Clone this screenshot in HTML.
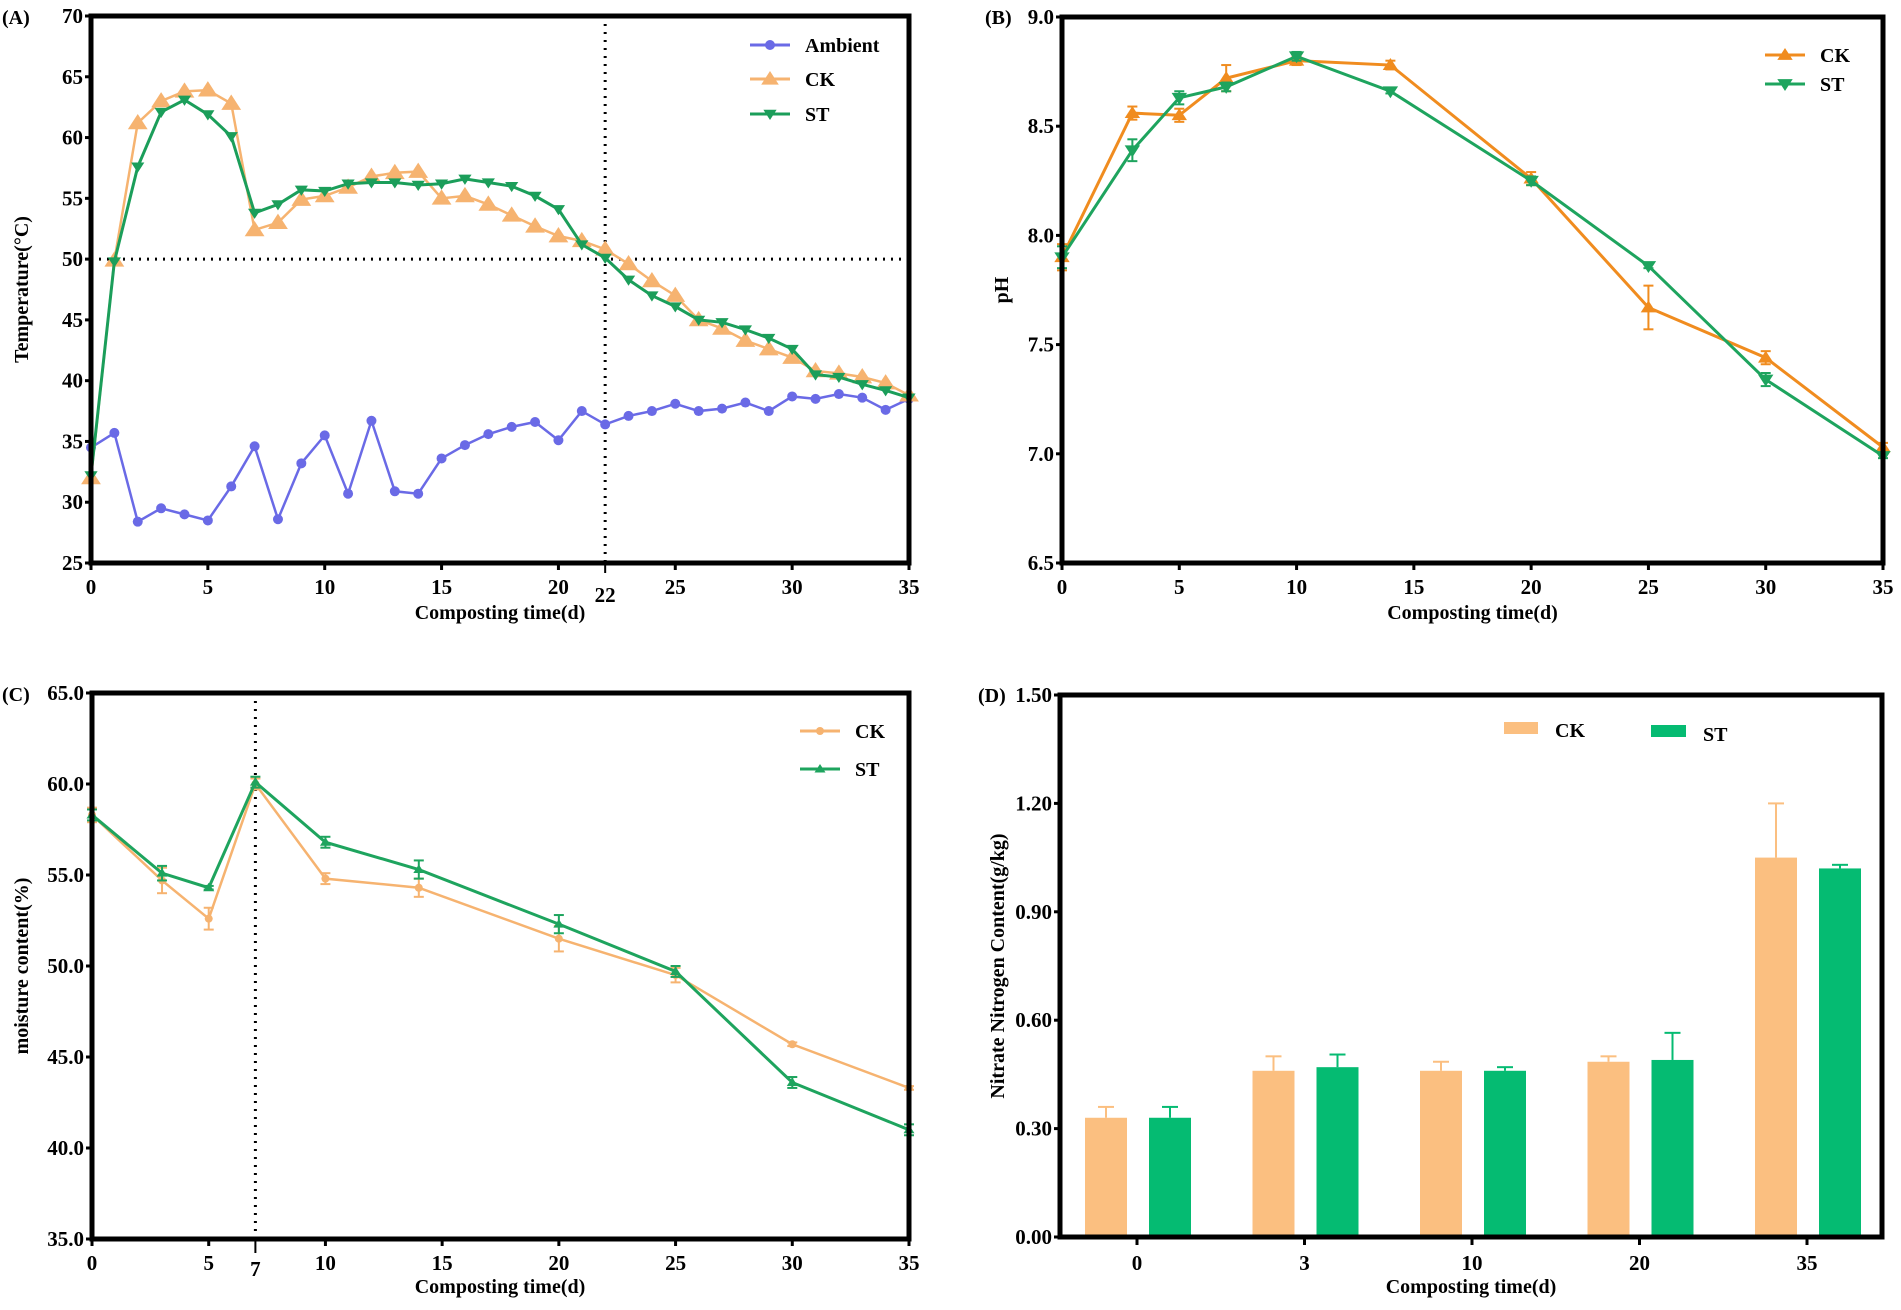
<!DOCTYPE html>
<html><head><meta charset="utf-8"><style>
html,body{margin:0;padding:0;background:#fff;}
svg{display:block;font-family:"Liberation Serif",serif;font-weight:bold;}
</style></head><body>
<svg id="chart" width="1901" height="1310" viewBox="0 0 1901 1310" xmlns="http://www.w3.org/2000/svg"></svg>
<script>
// ---- Panel A data ----
const daysA = [0,1,2,3,4,5,6,7,8,9,10,11,12,13,14,15,16,17,18,19,20,21,22,23,24,25,26,27,28,29,30,31,32,33,34,35];
const ambientA = [34.5,35.7,28.4,29.5,29,28.5,31.3,34.6,28.6,33.2,35.5,30.7,36.7,30.9,30.7,33.6,34.7,35.6,36.2,36.6,35.1,37.5,36.4,37.1,37.5,38.1,37.5,37.7,38.2,37.5,38.7,38.5,38.9,38.6,37.6,38.5];
const ckA = [32,49.9,61.2,63,63.8,63.9,62.8,52.4,53,54.9,55.2,55.9,56.8,57.1,57.2,55,55.2,54.5,53.6,52.7,51.9,51.5,50.8,49.6,48.2,47,45,44.3,43.3,42.6,41.9,40.8,40.6,40.3,39.8,38.8];
const stA = [32.2,49.8,57.6,62.1,63.1,61.9,60.1,53.8,54.5,55.7,55.6,56.2,56.3,56.3,56.1,56.2,56.6,56.3,56,55.2,54.1,51.2,50.1,48.3,47,46.1,45,44.8,44.2,43.5,42.6,40.5,40.3,39.7,39.2,38.6];
const yTicksA = [25,30,35,40,45,50,55,60,65,70];
const xTicksA = [0,5,10,15,20,25,30,35];
// ---- Panel B data ----
const daysB = [0,3,5,7,10,14,20,25,30,35];
const ckB = [7.9,8.56,8.55,8.72,8.8,8.78,8.26,7.67,7.44,7.03];
const ckBErr = [0.06,0.03,0.03,0.06,0.02,0.02,0.03,0.1,0.03,0.02];
const stB = [7.9,8.39,8.63,8.68,8.82,8.66,8.25,7.86,7.34,6.99];
const stBErr = [0.05,0.05,0.03,0.02,0.02,0.01,0.02,0.01,0.03,0.01];
const yTicksB = ["6.5","7.0","7.5","8.0","8.5","9.0"];
const xTicksB = [0,5,10,15,20,25,30,35];
// ---- Panel C data ----
const daysC = [0,3,5,7,10,14,20,25,30,35];
const ckC = [58.3,54.7,52.6,60,54.8,54.3,51.5,49.5,45.7,43.3];
const ckCErr = [0.4,0.7,0.6,0.3,0.3,0.5,0.7,0.4,0.1,0.1];
const stC = [58.3,55.1,54.3,60.1,56.8,55.3,52.3,49.7,43.6,41];
const stCErr = [0.3,0.4,0.1,0.3,0.3,0.5,0.5,0.3,0.3,0.3];
const yTicksC = ["35.0","40.0","45.0","50.0","55.0","60.0","65.0"];
const xTicksC = [0,5,10,15,20,25,30,35];
// ---- Panel D data ----
const catsD = ["0","3","10","20","35"];
const ckD = [0.33,0.46,0.46,0.485,1.05];
const ckDErr = [0.03,0.04,0.025,0.015,0.15];
const stD = [0.33,0.47,0.46,0.49,1.02];
const stDErr = [0.03,0.035,0.01,0.075,0.01];
const yTicksD = ["0.00","0.30","0.60","0.90","1.20","1.50"];

const svg = document.getElementById('chart');
const NS = 'http://www.w3.org/2000/svg';
function el(tag, attrs, parent){const e=document.createElementNS(NS,tag);for(const k in attrs)e.setAttribute(k,attrs[k]);(parent||svg).appendChild(e);return e;}
function txt(s,x,y,attrs,parent){const e=el('text',Object.assign({x:x,y:y,'font-size':20},attrs),parent);e.textContent=s;return e;}
function lin(d0,d1,r0,r1){return v=>r0+(v-d0)*(r1-r0)/(d1-d0);}

function frame(g,x0,x1,y0,y1){
  const r=el('rect',{x:x0,y:y0,width:x1-x0,height:y1-y0,fill:'none',stroke:'#000','stroke-width':5},g);
  
  
}
function yAxis(g,ticks,sy,x0){
  ticks.forEach(t=>{
    const v=parseFloat(t),y=sy(v);
    el('line',{x1:x0-6,x2:x0,y1:y,y2:y,stroke:'#000','stroke-width':3},g);
    const l=txt(String(t),x0-8,y+7,{'text-anchor':'end','font-size':21},g);
    
    
  });
}
function xAxis(g,ticks,sx,y0,ly){
  ticks.forEach(t=>{
    const x=sx(t);
    el('line',{x1:x,x2:x,y1:y0,y2:y0+7,stroke:'#000','stroke-width':3},g);
    const l=txt(String(t),x,ly,{'text-anchor':'middle','font-size':21},g);
    
    
  });
}
function series(g,xs,ys,sx,sy,color,marker,size,width,errs,name){
  const s=el('g',{},g);
  
  
  if(errs){xs.forEach((d,i)=>{const x=sx(d),yt=sy(ys[i]+errs[i]),yb=sy(ys[i]-errs[i]);
    el('line',{x1:x,x2:x,y1:yt,y2:yb,stroke:color,'stroke-width':2},s);
    el('line',{x1:x-5,x2:x+5,y1:yt,y2:yt,stroke:color,'stroke-width':2},s);
    el('line',{x1:x-5,x2:x+5,y1:yb,y2:yb,stroke:color,'stroke-width':2},s);});}
  el('polyline',{points:xs.map((d,i)=>sx(d)+','+sy(ys[i])).join(' '),fill:'none',stroke:color,'stroke-width':width},s);
  xs.forEach((d,i)=>drawMarker(s,marker,sx(d),sy(ys[i]),size,color));
}
function drawMarker(g,m,x,y,r,color){
  if(m==='circle')el('circle',{cx:x,cy:y,r:r,fill:color},g);
  else if(m==='up')el('polygon',{points:`${x},${y-r} ${x-r*1.1},${y+r*0.7} ${x+r*1.1},${y+r*0.7}`,fill:color},g);
  else if(m==='down')el('polygon',{points:`${x},${y+r} ${x-r*1.1},${y-r*0.7} ${x+r*1.1},${y-r*0.7}`,fill:color},g);
}
function legendLine(g,x,y,color,marker,size,label){
  const lg=el('g',{},g);
  
  
  el('line',{x1:x,x2:x+40,y1:y,y2:y,stroke:color,'stroke-width':3},lg);
  drawMarker(lg,marker,x+20,y,size,color);
  txt(label,x+55,y+7,{},lg);
}

// ===== Panel A =====
(function(){
  const g=el('g',{});
  const X0=91,X1=909,Y0=16,Y1=563;
  const sx=lin(0,35,X0,X1), sy=lin(25,70,Y1,Y0);
  el('line',{x1:X0,x2:X1,y1:sy(50),y2:sy(50),stroke:'#000','stroke-width':3,'stroke-dasharray':'2 6'},g);
  el('line',{x1:sx(22),x2:sx(22),y1:Y0,y2:Y1,stroke:'#000','stroke-width':3,'stroke-dasharray':'2 6'},g);
  series(g,daysA,ambientA,sx,sy,'#6a6ae6','circle',5,2.5,null,'ambient-series');
  series(g,daysA,ckA,sx,sy,'#f6b370','up',9,2.5,null,'ck-series');
  series(g,daysA,stA,sx,sy,'#1b9e5a','down',6,3,null,'st-series');
  frame(g,X0,X1,Y0,Y1);
  yAxis(g,yTicksA,sy,X0);
  xAxis(g,xTicksA,sx,Y1,594);
  el('line',{x1:sx(22),x2:sx(22),y1:Y1,y2:Y1+10,stroke:'#000','stroke-width':2},g);
  txt('22',sx(22),602,{'text-anchor':'middle','font-size':21},g);
  txt('(A)',2,24,{},g);
  const xt=txt('Composting time(d)',500,619,{'text-anchor':'middle'},g);
  const yt=txt('Temperature(°C)',0,0,{'text-anchor':'middle',transform:`translate(28,${(Y0+Y1)/2}) rotate(-90)`},g);
  legendLine(g,750,45,'#6a6ae6','circle',5,'Ambient');
  legendLine(g,750,79,'#f6b370','up',8,'CK');
  legendLine(g,750,114,'#1b9e5a','down',6,'ST');
})();

// ===== Panel B =====
(function(){
  const g=el('g',{});
  const X0=1062,X1=1883,Y0=17,Y1=563;
  const sx=lin(0,35,X0,X1), sy=lin(6.5,9.0,Y1,Y0);
  series(g,daysB,ckB,sx,sy,'#f08c1f','up',7,3,ckBErr,'ck-series');
  series(g,daysB,stB,sx,sy,'#1ea45e','down',7,3,stBErr,'st-series');
  frame(g,X0,X1,Y0,Y1);
  yAxis(g,yTicksB,sy,X0);
  xAxis(g,xTicksB,sx,Y1,594);
  txt('(B)',985,24,{},g);
  const xt=txt('Composting time(d)',(X0+X1)/2,619,{'text-anchor':'middle'},g);
  const yt=txt('pH',0,0,{'text-anchor':'middle',transform:`translate(1008,${(Y0+Y1)/2}) rotate(-90)`},g);
  legendLine(g,1765,55,'#f08c1f','up',7,'CK');
  legendLine(g,1765,84,'#1ea45e','down',7,'ST');
})();

// ===== Panel C =====
(function(){
  const g=el('g',{});
  const X0=92,X1=909,Y0=693,Y1=1239;
  const sx=lin(0,35,X0,X1), sy=lin(35,65,Y1,Y0);
  el('line',{x1:sx(7),x2:sx(7),y1:Y0,y2:Y1,stroke:'#000','stroke-width':3,'stroke-dasharray':'2 6'},g);
  series(g,daysC,ckC,sx,sy,'#f6b370','circle',4,2.5,ckCErr,'ck-series');
  series(g,daysC,stC,sx,sy,'#1ea45e','up',5,3,stCErr,'st-series');
  frame(g,X0,X1,Y0,Y1);
  yAxis(g,yTicksC,sy,X0);
  xAxis(g,xTicksC,sx,Y1,1270);
  el('line',{x1:sx(7),x2:sx(7),y1:Y1,y2:Y1+14,stroke:'#000','stroke-width':2},g);
  txt('7',sx(7),1276,{'text-anchor':'middle','font-size':21},g);
  txt('(C)',2,701,{},g);
  const xt=txt('Composting time(d)',500,1293,{'text-anchor':'middle'},g);
  const yt=txt('moisture content(%)',0,0,{'text-anchor':'middle',transform:`translate(28,${(Y0+Y1)/2}) rotate(-90)`},g);
  legendLine(g,800,731,'#f6b370','circle',4,'CK');
  legendLine(g,800,769,'#1ea45e','up',5,'ST');
})();

// ===== Panel D =====
(function(){
  const g=el('g',{});
  const X0=1060,X1=1882,Y0=695,Y1=1237;
  const sy=lin(0,1.5,Y1,Y0);
  const cx=i=>1137+i*167.5;
  function bar(i,v,e,off,color,name){
    const x=cx(i)+off, yv=sy(v), ye=sy(v+e);
    el('line',{x1:x+21,x2:x+21,y1:ye,y2:yv,stroke:color,'stroke-width':2},g);
    el('line',{x1:x+13,x2:x+29,y1:ye,y2:ye,stroke:color,'stroke-width':2},g);
    const r=el('rect',{x:x,y:yv,width:42,height:Y1-yv,fill:color},g);
    
    
  }
  catsD.forEach((c,i)=>{
    bar(i,ckD[i],ckDErr[i],-52,'#fbbf80','bar-ck-'+c);
    bar(i,stD[i],stDErr[i],12,'#05bb72','bar-st-'+c);
    el('line',{x1:cx(i),x2:cx(i),y1:Y1,y2:Y1+8,stroke:'#000','stroke-width':3},g);
    const l=txt(c,cx(i),1270,{'text-anchor':'middle','font-size':21},g);
    
    
  });
  frame(g,X0,X1,Y0,Y1);
  yAxis(g,yTicksD,sy,X0);
  txt('(D)',978,702,{},g);
  const xt=txt('Composting time(d)',(X0+X1)/2,1293,{'text-anchor':'middle'},g);
  const yt=txt('Nitrate Nitrogen Content(g/kg)',0,0,{'text-anchor':'middle',transform:`translate(1004,${(Y0+Y1)/2}) rotate(-90)`},g);
  const l1=el('g',{},g);
  el('rect',{x:1504,y:722,width:34,height:12,fill:'#fbbf80'},l1);txt('CK',1555,737,{},l1);
  const l2=el('g',{},g);
  el('rect',{x:1651,y:725,width:35,height:12,fill:'#05bb72'},l2);txt('ST',1703,741,{},l2);
})();
</script>
</body></html>
